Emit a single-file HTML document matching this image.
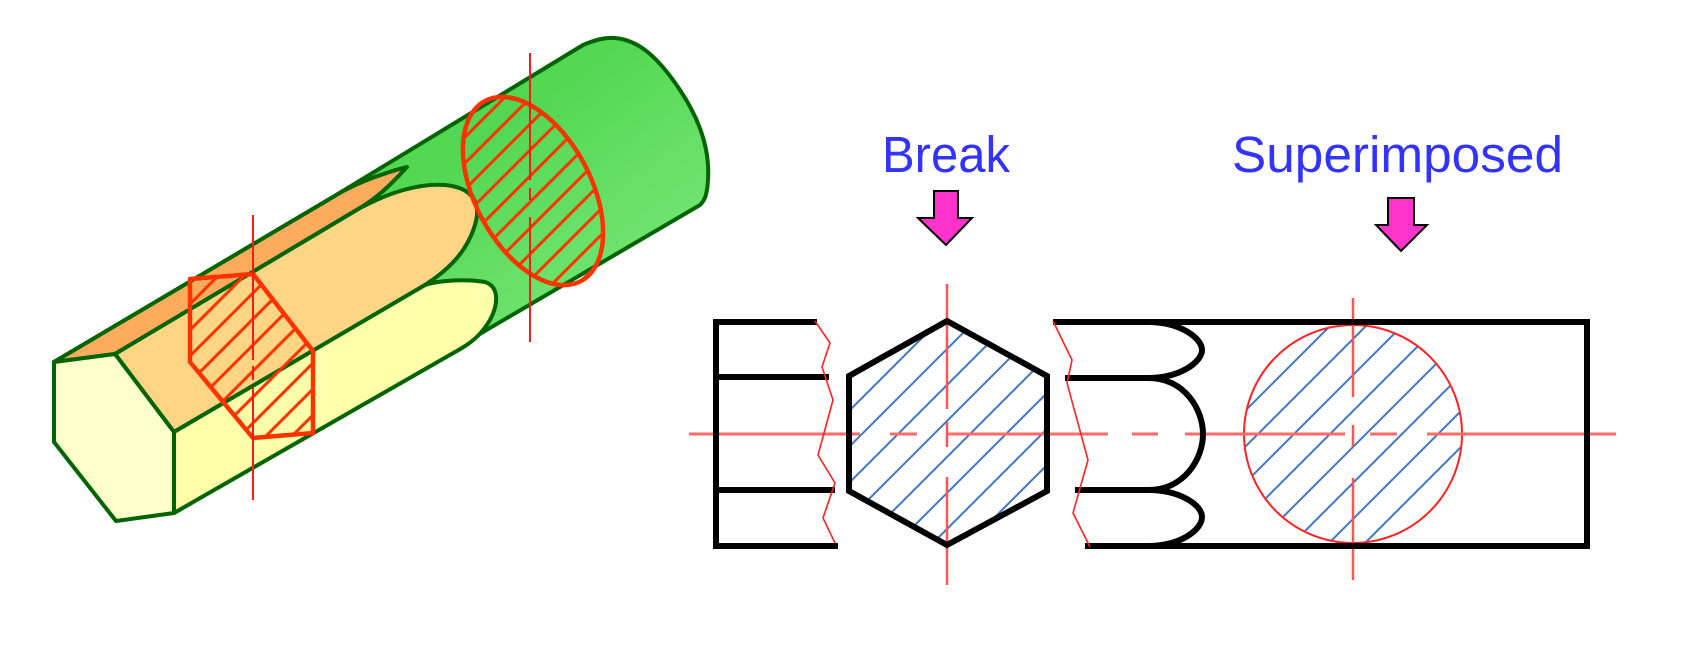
<!DOCTYPE html>
<html><head><meta charset="utf-8"><style>
html,body{margin:0;padding:0;background:#fff;}
svg{display:block;}
</style></head><body>
<svg width="1684" height="647" viewBox="0 0 1684 647" xmlns="http://www.w3.org/2000/svg">
<defs>
<linearGradient id="gg" x1="0" y1="0" x2="1" y2="1">
<stop offset="0" stop-color="#3ccf3c"/><stop offset="0.45" stop-color="#55d855"/><stop offset="1" stop-color="#95f595"/>
</linearGradient>
<pattern id="rh" patternUnits="userSpaceOnUse" width="26" height="26">
<line x1="-2" y1="28" x2="28" y2="-2" stroke="#ff3300" stroke-width="3"/>
<line x1="-15" y1="15" x2="15" y2="-15" stroke="#ff3300" stroke-width="3"/>
<line x1="11" y1="41" x2="41" y2="11" stroke="#ff3300" stroke-width="3"/>
</pattern>
<pattern id="rh2" patternUnits="userSpaceOnUse" width="26" height="26" patternTransform="rotate(-62)">
<line x1="-2" y1="28" x2="28" y2="-2" stroke="#ff3300" stroke-width="3"/>
<line x1="-15" y1="15" x2="15" y2="-15" stroke="#ff3300" stroke-width="3"/>
<line x1="11" y1="41" x2="41" y2="11" stroke="#ff3300" stroke-width="3"/>
</pattern>
<pattern id="bh" patternUnits="userSpaceOnUse" width="36" height="36">
<line x1="-2" y1="38" x2="38" y2="-2" stroke="#3a78c8" stroke-width="2"/>
<line x1="-20" y1="20" x2="20" y2="-20" stroke="#3a78c8" stroke-width="2"/>
<line x1="16" y1="56" x2="56" y2="16" stroke="#3a78c8" stroke-width="2"/>
</pattern>
</defs>

<g stroke="#006400" stroke-width="4" stroke-linejoin="round">
<path d="M54,362 L333,197 L583,45 C595,40 605,37 615,38 C640,40 660,60 680,90 C700,120 710,150 708,180 C707,195 705,200 700,205 L174,513 Z" fill="url(#gg)"/>
<path d="M54,362 L115,354 L360,208 C380,196 395,180 407,167 C395,170 360,180 333,197 Z" fill="#fcac5c"/>
<path d="M115,354 L360,208 C390,192 420,183 445,185 C475,188 482,205 474,228 C465,255 445,272 425,285 L174,432 Z" fill="#fdd585"/>
<path d="M174,432 L425,285 C440,280 465,279 485,282 C500,287 498,305 490,320 C482,333 475,340 462,348 L174,513 Z" fill="#ffffaa"/>
<path d="M54,362 L115,354 L174,432 L174,513 L116,521 L54,442 Z" fill="#ffffcc"/>
</g>
<path d="M190,279 L253,274 L313,351 L313,433 L253,438 L190,362 Z" fill="url(#rh)" stroke="#ff3300" stroke-width="4.5" stroke-linejoin="round"/>
<ellipse cx="533" cy="191" rx="102" ry="58" transform="rotate(62 533 191)" fill="url(#rh2)" stroke="#ff3300" stroke-width="4.5"/>
<g stroke="#ff1a1a" stroke-width="2">
<line x1="253" y1="215" x2="253" y2="360"/>
<line x1="253" y1="366" x2="253" y2="380"/>
<line x1="253" y1="388" x2="253" y2="500"/>
<line x1="530" y1="53" x2="530" y2="180"/>
<line x1="530" y1="188" x2="530" y2="200"/>
<line x1="530" y1="217" x2="530" y2="342"/>
</g>

<text x="882" y="172" font-family="'Liberation Sans',sans-serif" font-size="51" fill="#3333ff" textLength="128" lengthAdjust="spacingAndGlyphs">Break</text>
<text x="1232" y="172" font-family="'Liberation Sans',sans-serif" font-size="51" fill="#3333ff" textLength="331" lengthAdjust="spacingAndGlyphs">Superimposed</text>

<path d="M934,191 L958,191 L958,218 L972,218 L946,245 L918,218 L934,218 Z" fill="#ff33cc" stroke="#000" stroke-width="2"/>
<path d="M1388,198 L1414,198 L1414,225 L1427,225 L1401,251 L1376,225 L1388,225 Z" fill="#ff33cc" stroke="#000" stroke-width="2"/>

<polygon points="947,321 1047,376 1047,491 947,545 849,491 849,376" fill="url(#bh)"/>
<circle cx="1353" cy="434" r="109" fill="url(#bh)" stroke="#ff2222" stroke-width="2"/>

<g stroke="#ff6b6b" stroke-width="3">
<line x1="689" y1="434" x2="860" y2="434"/>
<line x1="890" y1="434" x2="917" y2="434"/>
<line x1="947" y1="434" x2="1108" y2="434"/>
<line x1="1132" y1="434" x2="1158" y2="434"/>
<line x1="1185" y1="434" x2="1345" y2="434"/>
<line x1="1370" y1="434" x2="1397" y2="434"/>
<line x1="1427" y1="434" x2="1616" y2="434"/>
</g>
<g stroke="#ff5555" stroke-width="2.5">
<line x1="947" y1="284" x2="947" y2="409"/>
<line x1="947" y1="422" x2="947" y2="447"/>
<line x1="947" y1="477" x2="947" y2="585"/>
<line x1="1353" y1="298" x2="1353" y2="397"/>
<line x1="1353" y1="425" x2="1353" y2="447"/>
<line x1="1353" y1="478" x2="1353" y2="580"/>
</g>

<g stroke="#000" stroke-width="6" fill="none" stroke-linejoin="miter">
<polyline points="817,322 716,322 716,546 838,546"/>
<line x1="716" y1="377" x2="829" y2="377"/>
<line x1="716" y1="490" x2="835" y2="490"/>
<polygon points="947,321 1047,376 1047,491 947,545 849,491 849,376"/>
<polyline points="1053,322 1587,322 1587,546 1085,546"/>
<line x1="1065" y1="378" x2="1148" y2="378"/>
<line x1="1075" y1="490" x2="1148" y2="490"/>
<path d="M1148,322 C1180,322 1202,338 1202,350 C1202,362 1180,378 1148,378 C1185,378 1203,410 1203,434 C1203,458 1185,490 1148,490 C1180,490 1202,505 1202,517 C1202,530 1180,546 1148,546"/>
</g>
<g stroke="#ff2222" stroke-width="1.6" fill="none">
<polyline points="815,321 830,343 822,367 833,400 818,455 835,483 823,518 835,543"/>
<polyline points="1053,321 1072,360 1067,383 1088,460 1073,513 1090,547"/>
</g>
</svg>
</body></html>
